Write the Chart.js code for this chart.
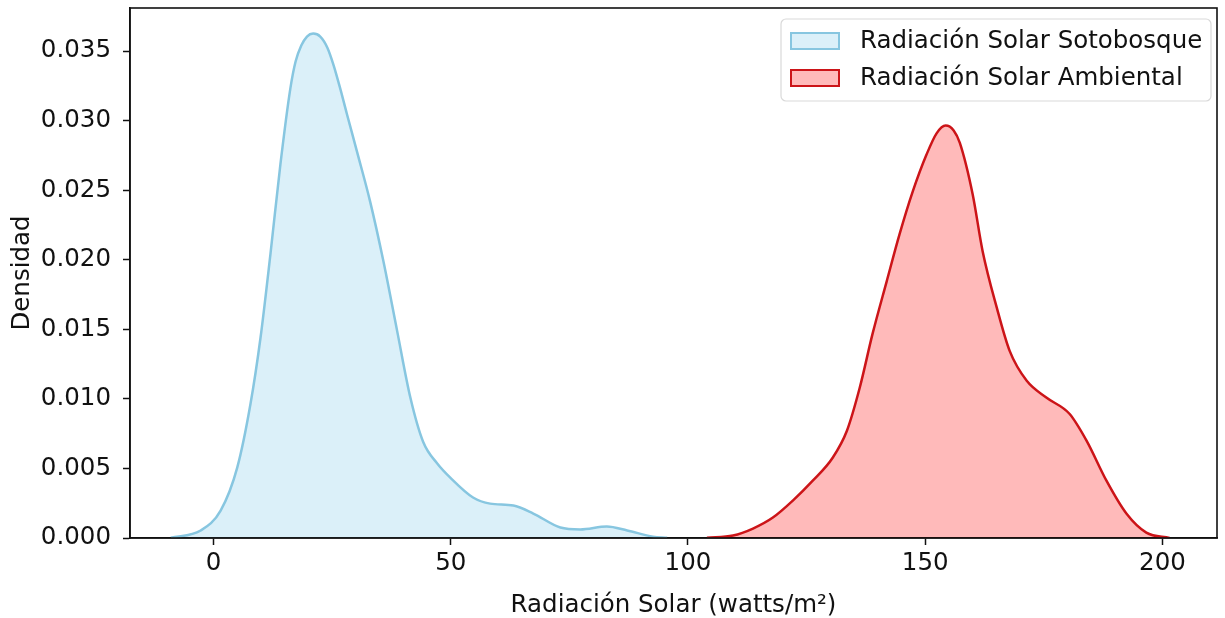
<!DOCTYPE html>
<html>
<head>
<meta charset="utf-8">
<script src="https://cdn.jsdelivr.net/npm/chart.js@4.4.1/dist/chart.umd.min.js"></script>
<style>
  html, body { margin: 0; padding: 0; background: #fff; }
  #wrap { width: 1225px; height: 618px; }
</style>
</head>
<body>
<div id="wrap"><canvas id="c" width="1225" height="618"></canvas></div>
<script>
// ---- Data ----
const sotoLabel = "Radiación Solar Sotobosque";
const ambLabel = "Radiación Solar Ambiental";
const sotoX = [-9.0, -2.7, 1.5, 5.0, 7.8, 9.9, 12.0, 14.1, 16.2, 17.3, 18.5, 19.7, 21.0, 22.5, 24.0, 25.3, 26.7, 28.1, 30.3, 33.0, 35.8, 38.7, 41.5, 44.2, 47.2, 49.9, 54.7, 58.3, 63.2, 67.4, 73.1, 77.3, 82.9, 87.2, 92.6, 95.6];
const sotoY = [0.00002, 0.00054, 0.00197, 0.00506, 0.00965, 0.01438, 0.02041, 0.02686, 0.03232, 0.03425, 0.03540, 0.03605, 0.03626, 0.03605, 0.03525, 0.03400, 0.03232, 0.03050, 0.0277, 0.02420, 0.01991, 0.01489, 0.01008, 0.00690, 0.00534, 0.00434, 0.00291, 0.00247, 0.00233, 0.00176, 0.00075, 0.00061, 0.00082, 0.00054, 0.0001, 0.00001];
const ambX = [104.0, 109.5, 113.7, 117.9, 122.1, 126.3, 130.5, 133.5, 136.2, 138.9, 141.9, 144.6, 147.4, 150.3, 152.4, 154.3, 156.0, 157.3, 160.0, 162.1, 165.1, 167.8, 171.4, 175.6, 180.4, 184.0, 188.2, 192.4, 196.6, 201.5];
const ambY = [0.00002, 0.00018, 0.00068, 0.00147, 0.00269, 0.00412, 0.00577, 0.00771, 0.0108, 0.01467, 0.01847, 0.02184, 0.02493, 0.02758, 0.02909, 0.02965, 0.02930, 0.02840, 0.02471, 0.02062, 0.01654, 0.01345, 0.0113, 0.01008, 0.00893, 0.00700, 0.00412, 0.00176, 0.00039, 0.00001];
const xTicks = [0, 50, 100, 150, 200];
const yTicks = [0.000, 0.005, 0.010, 0.015, 0.020, 0.025, 0.030, 0.035];
const xTitle = "Radiación Solar (watts/m²)";
const yTitle = "Densidad";

const FONT = "DejaVu Sans";
const FS = 24.5;

function pts(xs, ys) { return xs.map((x, i) => ({ x: x, y: ys[i] })); }

const framePlugin = {
  id: 'frame',
  afterDraw(chart) {
    const { ctx, chartArea: a } = chart;
    ctx.save();
    ctx.strokeStyle = '#111';
    ctx.lineWidth = 1.6;
    ctx.strokeRect(a.left, a.top, a.right - a.left, a.bottom - a.top);
    ctx.restore();
  }
};

const legendPlugin = {
  id: 'inLegend',
  afterDraw(chart) {
    const { ctx } = chart;
    const x0 = 781, y0 = 19, w = 430, h = 82;
    ctx.save();
    ctx.fillStyle = 'rgba(255,255,255,0.85)';
    ctx.strokeStyle = '#d9d9d9';
    ctx.lineWidth = 1.2;
    ctx.beginPath();
    ctx.roundRect(x0, y0, w, h, 5);
    ctx.fill();
    ctx.stroke();
    ctx.font = FS + 'px "' + FONT + '"';
    ctx.textBaseline = 'middle';
    ctx.textAlign = 'left';
    chart.data.datasets.forEach((ds, i) => {
      const cy = y0 + 22 + i * 37;
      ctx.fillStyle = ds.backgroundColor;
      ctx.fillRect(791, cy - 8, 48, 16);
      ctx.strokeStyle = ds.borderColor;
      ctx.lineWidth = 2;
      ctx.strokeRect(791, cy - 8, 48, 16);
      ctx.fillStyle = '#111';
      ctx.fillText(ds.label, 860, cy + 1);
    });
    ctx.restore();
  }
};

new Chart(document.getElementById('c'), {
  type: 'line',
  data: {
    datasets: [
      {
        label: sotoLabel,
        data: pts(sotoX, sotoY),
        borderColor: '#87c6e0',
        backgroundColor: 'rgba(135,206,235,0.3)',
        borderWidth: 2.5,
        fill: 'origin',
        pointRadius: 0,
        tension: 0.4,
        cubicInterpolationMode: 'monotone'
      },
      {
        label: ambLabel,
        data: pts(ambX, ambY),
        borderColor: '#cc1418',
        backgroundColor: 'rgba(255,0,0,0.27)',
        borderWidth: 2.5,
        fill: 'origin',
        pointRadius: 0,
        tension: 0.4,
        cubicInterpolationMode: 'monotone'
      }
    ]
  },
  options: {
    responsive: false,
    animation: false,
    layout: { padding: { top: 8, right: 8, left: 0, bottom: 0 } },
    plugins: { legend: { display: false }, tooltip: { enabled: false } },
    scales: {
      x: {
        type: 'linear',
        min: -17.6,
        max: 211.5,
        afterBuildTicks(s) { s.ticks = xTicks.map(v => ({ value: v })); },
        afterFit(s) { s.height = 80; s.paddingLeft = 0; s.paddingRight = 0; },
        ticks: {
          color: '#111',
          font: { family: FONT, size: FS },
          padding: 4,
          maxRotation: 0,
          callback: v => String(v)
        },
        grid: { display: true, drawOnChartArea: false, drawTicks: true, tickLength: 7, tickColor: '#111', tickWidth: 1.5 },
        border: { display: true, color: '#111', width: 1.6 },
        title: {
          display: true,
          text: xTitle,
          color: '#111',
          font: { family: FONT, size: FS, lineHeight: 1.0 },
          padding: { top: 1, bottom: 0 }
        }
      },
      y: {
        type: 'linear',
        min: 0,
        max: 0.0381,
        afterBuildTicks(s) { s.ticks = yTicks.map(v => ({ value: v })); },
        afterFit(s) { s.width = 130; s.paddingTop = 0; s.paddingBottom = 0; },
        ticks: {
          color: '#111',
          font: { family: FONT, size: FS },
          padding: 12,
          callback: v => Number(v).toFixed(3)
        },
        grid: { display: true, drawOnChartArea: false, drawTicks: true, tickLength: 7, tickColor: '#111', tickWidth: 1.5 },
        border: { display: true, color: '#111', width: 1.6 },
        title: {
          display: true,
          text: yTitle,
          color: '#111',
          font: { family: FONT, size: FS, lineHeight: 1.0 },
          padding: { top: 10, bottom: 0 }
        }
      }
    }
  },
  plugins: [framePlugin, legendPlugin]
});
</script>
</body>
</html>
